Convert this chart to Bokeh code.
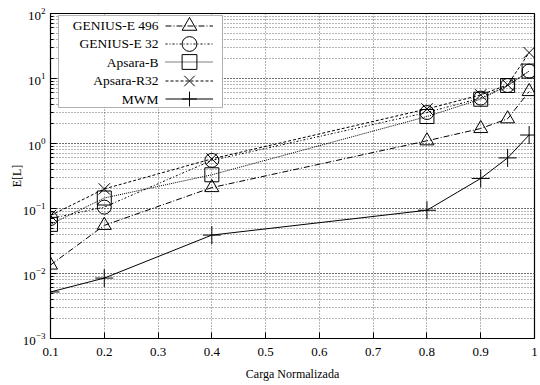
from bokeh.plotting import figure
from bokeh.models import (FixedTicker, Legend, LegendItem, Label, BoxAnnotation, Range1d)
from bokeh.embed import file_html
from bokeh.resources import INLINE

# ---- data ----
carga = [0.1, 0.2, 0.4, 0.8, 0.9, 0.95, 0.99]
genius_e_496 = [0.0135, 0.055, 0.21, 1.1, 1.7, 2.4, 6.3]
genius_e_32 = [0.07, 0.105, 0.55, 3.0, 5.0, 7.8, 13.0]
apsara_b = [0.057, 0.145, 0.33, 2.6, 4.8, 7.8, 13.0]
apsara_r32 = [0.078, 0.2, 0.58, 3.4, 5.6, 8.0, 25.0]
mwm = [0.0052, 0.0085, 0.039, 0.094, 0.29, 0.6, 1.35]

series_names = ["GENIUS-E 496", "GENIUS-E 32", "Apsara-B", "Apsara-R32", "MWM"]
series_values = [genius_e_496, genius_e_32, apsara_b, apsara_r32, mwm]
x_ticks = [0.1, 0.2, 0.3, 0.4, 0.5, 0.6, 0.7, 0.8, 0.9, 1.0]

FONT = "Liberation Serif"

p = figure(width=540, height=385, y_axis_type="log",
           x_range=Range1d(0.1, 1.0), y_range=Range1d(1e-3, 1e2),
           output_backend="svg", toolbar_location=None,
           min_border_left=50, min_border_right=6, min_border_top=13, min_border_bottom=47)
p.background_fill_color = "white"
p.border_fill_color = "white"
p.outline_line_color = "black"
p.outline_line_width = 1.2

# axes
p.xaxis.ticker = FixedTicker(ticks=x_ticks)
p.xaxis.major_label_overrides = {1: "1"}
p.xaxis.axis_label = "Carga Normalizada"
p.yaxis.axis_label = "E[L]"
for ax in [p.xaxis[0], p.yaxis[0]]:
    ax.major_tick_in = 6
    ax.major_tick_out = 0
    ax.minor_tick_in = 3
    ax.minor_tick_out = 0
    ax.major_label_text_font = FONT
    ax.major_label_text_font_size = "13px"
    ax.major_label_text_color = "black"
    ax.axis_label_text_font = FONT
    ax.axis_label_text_font_size = "12px"
    ax.axis_label_text_font_style = "normal"
    ax.axis_label_text_color = "black"
    ax.axis_line_color = "black"
p.xaxis.minor_tick_line_color = None
p.xaxis.major_label_standoff = 9
p.xaxis.axis_label_standoff = 8
p.yaxis.major_label_standoff = 5
p.yaxis.axis_label_standoff = -4

# grids
p.xgrid.ticker = FixedTicker(ticks=x_ticks)
for g in [p.xgrid[0], p.ygrid[0]]:
    g.grid_line_color = "#444444"
    g.grid_line_dash = "1 2"
    g.grid_line_width = 0.8
p.ygrid.minor_grid_line_color = "#444444"
p.ygrid.minor_grid_line_dash = "1 2"
p.ygrid.minor_grid_line_width = 0.8

styles = [
    dict(dash="6 2 1 2", marker="triangle", size=14),
    dict(dash="2 2 1 2", marker="circle", size=14),
    dict(dash="1 1", marker="square", size=14),
    dict(dash="3 2", marker="x", size=16),
    dict(dash="solid", marker="cross", size=18),
]

# legend frame (drawn first so the key sits on top of it)
box = BoxAnnotation(left=8, right=172, top=323, bottom=231,
                    left_units="screen", right_units="screen",
                    top_units="screen", bottom_units="screen",
                    fill_color="white", fill_alpha=1.0, line_color="black", line_width=1)
p.add_layout(box)

ROW = 18.4
for i, (name, vals, st) in enumerate(zip(series_names, series_values, styles)):
    ln = p.line(carga, vals, line_color="black", line_width=1, line_dash=st["dash"])
    sc = p.scatter(carga, vals, marker=st["marker"], size=st["size"], fill_color=None,
                   line_color="black", line_width=1)
    # one key sample per row, right of its label (gnuplot style key)
    row_center = 313 - i * ROW
    key = Legend(items=[LegendItem(label=" ", renderers=[ln, sc])],
                 location=(115, int(round(row_center - 18.5))), orientation="vertical",
                 glyph_width=48, glyph_height=37, label_height=18, label_width=0,
                 label_standoff=0, spacing=0, padding=0, margin=0,
                 border_line_color=None, background_fill_alpha=0.0,
                 label_text_font=FONT, label_text_font_size="12px")
    p.add_layout(key)
    lab = Label(x=108, y=row_center, x_units="screen", y_units="screen", text=name,
                text_align="right", text_baseline="middle", text_font=FONT,
                text_font_size="13.5px", text_color="black")
    p.add_layout(lab)

open("out.html", "w").write(file_html(p, INLINE))
